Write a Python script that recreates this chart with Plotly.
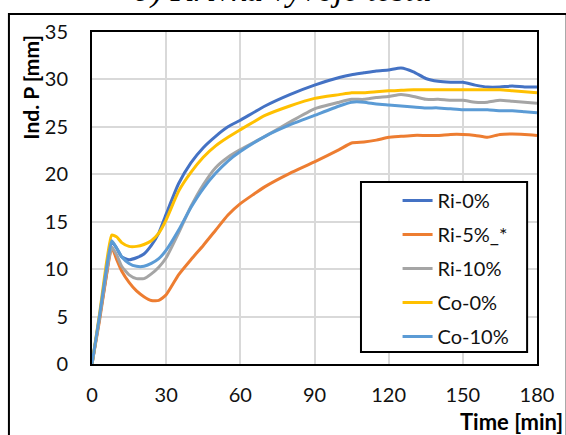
import plotly.graph_objects as go

time_min = [0, 3, 6, 8, 10, 12, 15, 18, 21, 24, 27, 30, 35, 40, 45, 50, 55, 60, 70, 80, 90,
            100, 105, 110, 115, 120, 125, 130, 135, 140, 145, 150, 155, 160, 165, 170, 175, 180]

ri_0 = [0, 4.8, 9.7, 12.9, 12.2, 11.3, 11.0, 11.2, 11.6, 12.5, 13.8, 15.8, 19.0, 21.2, 22.8, 24.0,
        25.0, 25.7, 27.2, 28.4, 29.4, 30.2, 30.5, 30.7, 30.9, 31.0, 31.2, 30.8, 30.1, 29.8, 29.7,
        29.7, 29.4, 29.2, 29.2, 29.3, 29.2, 29.2]
ri_5 = [0, 4.5, 9.6, 12.3, 11.0, 9.8, 8.6, 7.7, 7.1, 6.7, 6.7, 7.3, 9.4, 11.0, 12.5, 14.1, 15.7,
        16.9, 18.7, 20.1, 21.3, 22.6, 23.3, 23.4, 23.6, 23.9, 24.0, 24.1, 24.1, 24.1, 24.2, 24.2,
        24.1, 23.9, 24.2, 24.25, 24.2, 24.1]
ri_10 = [0, 4.8, 9.9, 12.3, 11.5, 10.3, 9.4, 9.0, 9.0, 9.5, 10.2, 11.2, 13.8, 16.6, 18.9, 20.7,
         21.8, 22.6, 24.0, 25.5, 26.9, 27.6, 27.9, 27.9, 28.1, 28.2, 28.4, 28.2, 27.9, 27.9, 27.8,
         27.8, 27.6, 27.6, 27.8, 27.7, 27.6, 27.5]
co_0 = [0, 5.2, 10.9, 13.6, 13.4, 12.8, 12.4, 12.4, 12.6, 13.0, 13.8, 15.2, 18.2, 20.2, 21.8,
        23.0, 23.9, 24.7, 26.2, 27.2, 28.0, 28.4, 28.6, 28.6, 28.7, 28.8, 28.85, 28.9, 28.9,
        28.9, 28.9, 28.9, 28.9, 28.9, 28.9, 28.8, 28.7, 28.6]
co_10 = [0, 5.0, 10.3, 13.0, 12.2, 11.3, 10.6, 10.3, 10.3, 10.6, 11.1, 12.0, 14.1, 16.5, 18.5,
         20.1, 21.4, 22.4, 24.0, 25.2, 26.2, 27.2, 27.6, 27.6, 27.4, 27.3, 27.2, 27.1, 27.0,
         27.0, 26.9, 26.8, 26.8, 26.8, 26.7, 26.7, 26.6, 26.5]

series_names = ["Ri-0%", "Ri-5%_*", "Ri-10%", "Co-0%", "Co-10%"]
series_values = [ri_0, ri_5, ri_10, co_0, co_10]
series_colors = ["#4472C4", "#ED7D31", "#A5A5A5", "#FFC000", "#5B9BD5"]

x_ticks = [0, 30, 60, 90, 120, 150, 180]
y_ticks = [0, 5, 10, 15, 20, 25, 30, 35]

title_text = "b) Krivka vývoje testu"
y_title = "Ind. P [mm]"
x_title = "Time [min]"

FONT = "Lato"

fig = go.Figure()
for name, vals, col in zip(series_names, series_values, series_colors):
    fig.add_trace(go.Scatter(x=time_min, y=vals, mode="lines", name=name, legendgroup=name,
                             line=dict(color=col, width=3, shape="spline", smoothing=0.5)))

W, H = 566, 435
L, R, T, B = 92, 24, 32, 71


def px(xpix):
    return (xpix - L) / (W - L - R)


def py(ypix):
    return (H - B - ypix) / (H - T - B)


fig.update_layout(
    width=W, height=H,
    margin=dict(l=L, r=R, t=T, b=B),
    paper_bgcolor="white", plot_bgcolor="white",
    font=dict(family=FONT, size=19, color="#111111"),
    showlegend=True,
    legend=dict(x=px(401), y=py(181), xanchor="left", yanchor="top",
                bgcolor="rgba(0,0,0,0)", borderwidth=0, tracegroupgap=5,
                font=dict(family=FONT, size=20, color="#111111")),
    xaxis=dict(range=[0, 180], tickvals=x_ticks, showgrid=True, gridcolor="#D9D9D9", gridwidth=1.5,
               showline=True, linecolor="black", linewidth=2, mirror=True, zeroline=False,
               ticks="", ticklabelstandoff=12, tickfont=dict(family=FONT, size=20, color="#111111")),
    yaxis=dict(range=[0, 35], tickvals=y_ticks, showgrid=True, gridcolor="#D9D9D9", gridwidth=1.5,
               showline=True, linecolor="black", linewidth=2, mirror=True, zeroline=False,
               ticks="", ticklabelstandoff=18, tickfont=dict(family=FONT, size=20, color="#111111")),
    shapes=[
        dict(type="rect", xref="paper", yref="paper", x0=px(8), x1=px(572), y0=py(437), y1=py(14),
             line=dict(color="black", width=2), fillcolor="rgba(0,0,0,0)", layer="above"),
        dict(type="rect", xref="paper", yref="paper", x0=px(364), x1=px(532), y0=py(352), y1=py(182),
             line=dict(color="black", width=2), fillcolor="white", layer="above"),
    ],
    annotations=[
        dict(text="<i>" + title_text + "</i>", xref="paper", yref="paper", x=px(285), y=py(11),
             xanchor="center", yanchor="bottom", showarrow=False,
             font=dict(family="Liberation Serif", size=34, color="black")),
        dict(text="<b>" + y_title + "</b>", xref="paper", yref="paper", x=px(30), y=py(87),
             xanchor="center", yanchor="middle", textangle=-90, showarrow=False,
             font=dict(family=FONT, size=21, color="black")),
        dict(text="<b>" + x_title + "</b>", xref="paper", yref="paper", x=px(462), y=py(421),
             xanchor="left", yanchor="middle", showarrow=False,
             font=dict(family=FONT, size=22, color="black")),
    ],
)

fig.write_html("out.html")
